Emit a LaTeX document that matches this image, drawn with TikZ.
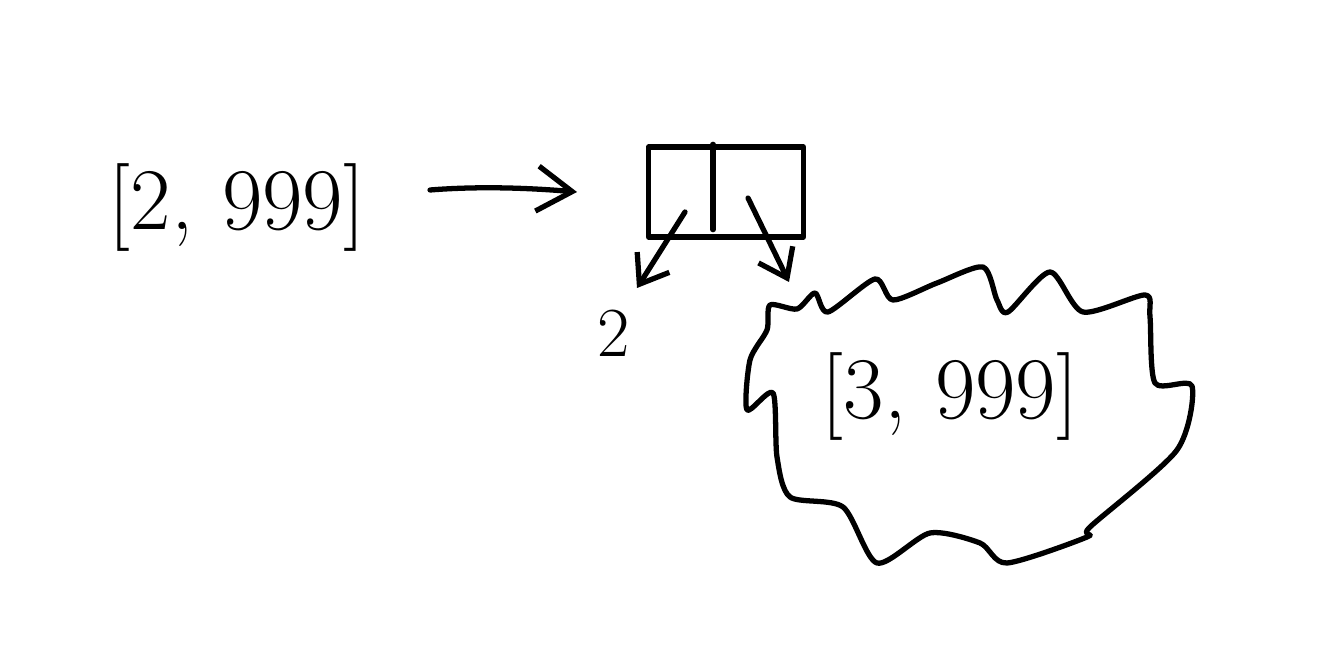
\documentclass[tikz,border=0pt]{standalone}
\usetikzlibrary{arrows.meta}
\begin{document}
\begin{tikzpicture}[x=0.01cm,y=-0.01cm,
  ink/.style={line width=1.5pt,line cap=round,line join=round},
  bigtxt/.style={font=\fontsize{25}{28}\selectfont,inner sep=0pt},
  smalltxt/.style={font=\fontsize{20}{22}\selectfont,inner sep=0pt},
  bigarrow/.style={ink,-{Straight Barb[length=3.5mm,width=4.5mm,line width=1.5pt]}},
  smallarrow/.style={ink,-{Straight Barb[length=2.6mm,width=3.8mm,line width=1.5pt]}},
  cell/.style={ink,draw,rectangle,minimum width=1.55cm,minimum height=0.9cm,inner sep=0pt}]
\useasboundingbox (0,0) rectangle (1344,664);
\fill[white] (0,0) rectangle (1344,664);

% left list
\node[bigtxt] (lst) at (237,208) {[2,\,\,999]};
\coordinate (arrS) at (430,190);
\coordinate (arrE) at (577,192);
\draw[bigarrow] (arrS) .. controls (480,186) and (530,188) .. (arrE);

% pair box
\node[cell] (box) at (726,192) {};
\draw[ink] ([xshift=-0.13cm]box.north) -- ([xshift=-0.13cm,yshift=0.1cm]box.south);
\coordinate (lcell) at (685,212);
\coordinate (rcell) at (748,198);

% head value
\node[smalltxt] (two) at (614,333) {2};
\coordinate (twotip) at (637,288);
\draw[smallarrow] (lcell) -- (twotip);

% cloud
\coordinate (cloudtip) at (789,282);
\draw[smallarrow] (rcell) -- (cloudtip);
\draw[ink] plot[smooth cycle,tension=0.45] coordinates {
 (770,305) (797,309) (815,293) (828,312) (875,279) (893,300) (937,283)
 (983,267) (997,300) (1008,312) (1050,272) (1083,312) (1145,295) (1150,317)
 (1155,383) (1192,386) (1177,450) (1090,527) (1087,537) (1007,563) (980,543)
 (930,533) (877,563) (843,507) (790,497) (777,457) (773,393) (747,410)
 (750,360) (767,330)};
\node[bigtxt] (rest) at (950,397) {[3,\,\,999]};
\end{tikzpicture}
\end{document}
